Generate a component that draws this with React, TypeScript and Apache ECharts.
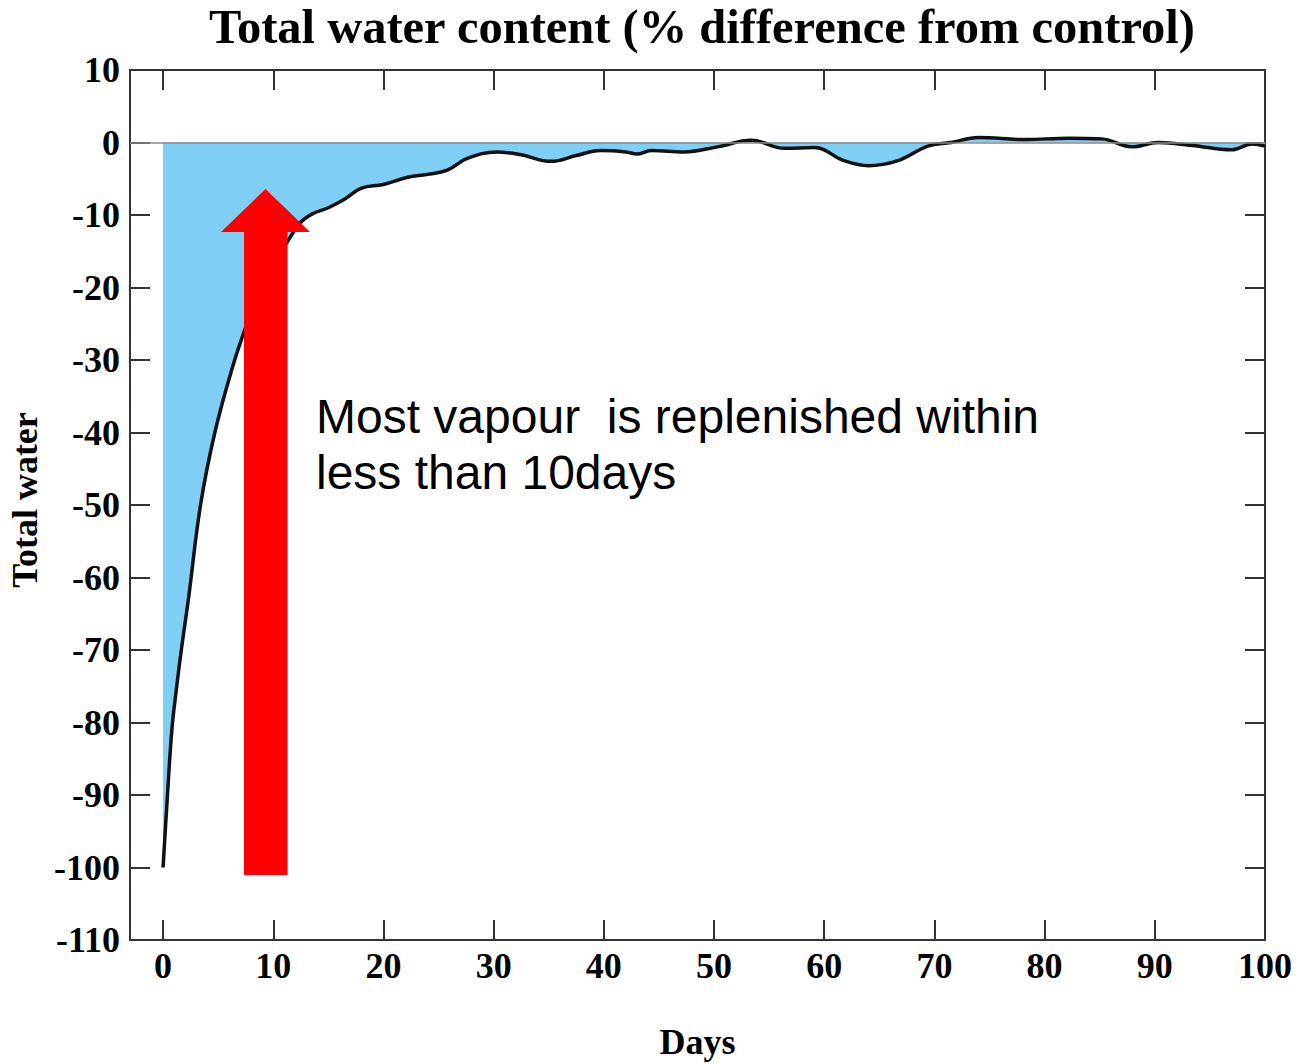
import React, { useEffect, useRef } from "react";
import * as echarts from "echarts";

const days = [0, 0.4, 0.8, 1.2, 1.7, 2.3, 3.4, 4.7, 6.3, 7.5, 8.8, 10, 11.2, 12.5, 13.6, 15, 16.5, 18, 20, 22.2, 24, 25.8, 27.6, 30.3, 32.5, 35.2, 37.5, 39.7, 42, 43, 44.3, 47.3, 50.3, 53.4, 56.4, 59.1, 61.8, 64, 66.7, 69.4, 71.5, 74, 78.2, 82.2, 85.2, 87.9, 90.3, 93.4, 97, 98.8, 100];
const waterPct = [-100, -90, -81, -75.5, -69.5, -63, -50, -40, -31, -25.5, -20.5, -16.8, -13.9, -11, -9.8, -9, -7.8, -6.3, -5.8, -4.8, -4.4, -3.8, -2.2, -1.3, -1.7, -2.6, -1.8, -1.1, -1.3, -1.6, -1.1, -1.3, -0.6, 0.3, -0.8, -0.7, -2.5, -3.2, -2.5, -0.5, 0, 0.7, 0.4, 0.6, 0.5, -0.6, 0, -0.4, -1.0, -0.2, -0.5];
const xTicks = [0, 10, 20, 30, 40, 50, 60, 70, 80, 90, 100];

const titleText = "Total water content (% difference from control)";
const xName = "Days";
const yName = "Total water";
const noteLines = ["Most vapour  is replenished within", "less than 10days"];

const serif = "'Liberation Serif', 'Times New Roman', serif";
const sans = "'Liberation Sans', Arial, sans-serif";

export default function App() {
  const ref = useRef<HTMLDivElement>(null);
  useEffect(() => {
    if (!ref.current) return;
    const chart = echarts.init(ref.current, null, { renderer: "svg" });
    const axisLine = { show: true, onZero: false, lineStyle: { color: "#333", width: 2 } };
    const tick = { show: true, inside: true, length: 20, lineStyle: { color: "#333", width: 2 } };
    const label = { color: "#000", fontFamily: serif, fontWeight: "bold", fontSize: 36 };
    chart.setOption({
      animation: false,
      backgroundColor: "#fff",
      title: {
        text: titleText,
        left: 204,
        top: -3,
        textStyle: { color: "#000", fontFamily: serif, fontWeight: "bold", fontSize: 48.5 },
      },
      grid: { left: 130, right: 34, top: 70, bottom: 123, containLabel: false, outerBoundsMode: "none" },
      xAxis: [
        {
          type: "value",
          min: -3,
          max: 100,
          position: "bottom",
          axisLine,
          axisTick: { ...tick, customValues: xTicks },
          axisLabel: { ...label, margin: 8, customValues: xTicks },
          splitLine: { show: false },
          name: xName,
          nameLocation: "middle",
          nameGap: 84,
          nameTextStyle: { color: "#000", fontFamily: serif, fontWeight: "bold", fontSize: 36 },
        },
        {
          type: "value",
          min: -3,
          max: 100,
          position: "top",
          axisLine,
          axisTick: { ...tick, customValues: xTicks },
          axisLabel: { show: false, customValues: xTicks },
          splitLine: { show: false },
        },
      ],
      yAxis: [
        {
          type: "value",
          min: -110,
          max: 10,
          interval: 10,
          position: "left",
          axisLine,
          axisTick: tick,
          axisLabel: { ...label, margin: 10 },
          splitLine: { show: false },
          name: yName,
          nameLocation: "middle",
          nameGap: 86,
          nameRotate: 90,
          nameTextStyle: { color: "#000", fontFamily: serif, fontWeight: "bold", fontSize: 36, padding: [0, 0, 0, 10] },
        },
        {
          type: "value",
          min: -110,
          max: 10,
          interval: 10,
          position: "right",
          axisLine,
          axisTick: tick,
          axisLabel: { show: false },
          splitLine: { show: false },
        },
      ],
      series: [
        {
          type: "line",
          data: days.map((d, i) => [d, waterPct[i]]),
          smooth: 0.4,
          symbol: "none",
          lineStyle: { color: "#111", width: 3.5 },
          areaStyle: { color: "#7ecef6", opacity: 1, origin: 0 },
          markLine: {
            silent: true,
            symbol: "none",
            label: { show: false },
            lineStyle: { color: "#8a8a8a", width: 1.5, type: "solid" },
            data: [{ yAxis: 0 }],
          },
          z: 2,
        },
      ],
      graphic: [
        {
          type: "polygon",
          z: 10,
          shape: {
            points: [
              [244, 875],
              [244, 232],
              [221, 232],
              [265.5, 189],
              [310, 232],
              [287.5, 232],
              [287.5, 875],
            ],
          },
          style: { fill: "#ff0000" },
        },
        {
          type: "text",
          z: 10,
          style: {
            x: 316,
            y: 416,
            text: noteLines[0],
            fill: "#000",
            font: `48px ${sans}`,
            verticalAlign: "middle",
          },
        },
        {
          type: "text",
          z: 10,
          style: {
            x: 316,
            y: 472,
            text: noteLines[1],
            fill: "#000",
            font: `48px ${sans}`,
            verticalAlign: "middle",
          },
        },
      ],
    });
    return () => chart.dispose();
  }, []);
  return (
    <div
      ref={ref}
      style={{ position: "absolute", left: 0, top: 0, width: 1299, height: 1063 }}
    />
  );
}
